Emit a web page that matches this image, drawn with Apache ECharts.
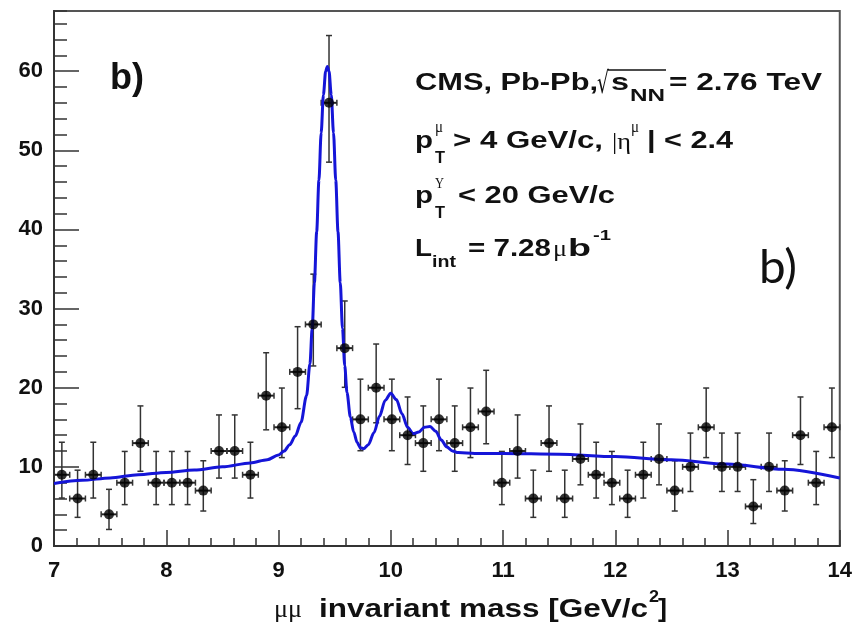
<!DOCTYPE html>
<html>
<head>
<meta charset="utf-8">
<script src="https://cdn.jsdelivr.net/npm/echarts@6/dist/echarts.min.js"></script>
<style>html,body{margin:0;padding:0;background:#fff;}#c{width:855px;height:629px;}</style>
</head>
<body>
<div id="c"></div>
<script>
// ---- data ----
const massBins = [7.07,7.21,7.35,7.49,7.63,7.77,7.91,8.05,8.19,8.33,8.47,8.61,8.75,8.89,9.03,9.17,9.31,9.45,9.59,9.73,
  9.87,10.01,10.15,10.29,10.43,10.57,10.71,10.85,10.99,11.13,11.27,11.41,11.55,11.69,11.83,11.97,12.11,12.25,12.39,12.53,
  12.67,12.81,12.95,13.09,13.23,13.37,13.51,13.65,13.79,13.93];
const counts = [9,6,9,4,8,13,8,8,8,7,12,12,9,19,15,22,28,56,25,16,
  20,16,14,13,16,13,15,17,8,12,6,13,6,11,9,8,6,9,11,7,
  10,15,10,10,5,10,7,14,8,15];
const errLow = [6.06,3.62,6.06,2.09,5.23,9.44,5.23,5.23,5.23,4.42,8.58,8.58,6.06,14.68,11.17,17.35,22.75,48.5,20.05,12.04,
  15.57,12.04,10.30,9.44,12.04,9.44,11.17,12.92,5.23,8.58,3.62,9.44,3.62,7.73,6.06,5.23,3.62,6.06,7.73,4.42,
  6.89,11.17,6.89,6.89,2.84,6.89,4.42,10.30,5.23,11.17];
const errHigh = [13.11,9.58,13.11,7.16,11.95,17.70,11.95,11.95,11.95,10.77,16.56,16.56,13.11,24.42,19.96,27.71,34.35,64.5,30.96,21.08,
  25.52,21.08,18.83,17.70,21.08,17.70,19.96,22.20,11.95,16.56,9.58,17.70,9.58,15.42,13.11,11.95,9.58,13.11,15.42,10.77,
  14.27,19.96,14.27,14.27,8.38,14.27,10.77,18.83,11.95,19.96];
const binHalf = 0.07;
const fitMass = [7.0,7.25,7.5,7.75,8.0,8.25,8.5,8.75,8.9,9.0,9.05,9.1,9.15,9.2,9.25,9.28,9.3,9.32,9.34,9.36,9.38,9.4,9.42,9.435,
  9.45,9.47,9.49,9.51,9.53,9.55,9.57,9.59,9.61,9.64,9.67,9.7,9.73,9.76,9.8,9.85,9.9,9.95,10.0,10.05,10.1,10.15,10.2,10.25,
  10.3,10.35,10.4,10.45,10.5,10.55,10.6,10.75,11.0,11.5,12.0,12.5,13.0,13.5,14.0];
const fitCounts = [7.9,8.3,8.6,9.0,9.3,9.6,10.0,10.5,10.9,11.5,12.0,12.8,13.9,15.6,19.0,23.0,27.5,33.3,39.7,46.2,52.2,57.0,60.0,60.6,
  60.0,57.0,52.2,46.2,39.7,33.3,27.5,22.8,19.4,16.3,14.4,13.1,12.4,12.3,12.8,14.3,16.4,18.4,19.3,18.5,16.7,15.0,14.2,14.4,
  15.0,15.1,14.5,13.4,12.5,12.0,11.8,11.7,11.7,11.6,11.3,10.9,10.35,9.7,8.6];
const xTicks = {min: 7, max: 14, interval: 1};
const yTicks = {min: 0, max: 67.6, interval: 10, minorInterval: 2};

// ---- helpers for text ----
const mctx = document.createElement('canvas').getContext('2d');
function measure(t, f){ mctx.font = f; return mctx.measureText(t).width; }
const BOLD = s => 'bold ' + s + 'px "Liberation Sans"';
const SERIF = s => s + 'px "Liberation Serif"';
function seg(text, x, baseline, font, size, w){
  const s = w ? w / measure(text, font) : 1;
  return {type:'text', x: x, y: baseline - 0.36*size, scaleX: s, z: 100,
    style:{text: text, font: font, fill:'#111', align:'left', verticalAlign:'middle'}};
}
const M = 24;
const texts = [
  seg('b)', 110, 92, BOLD(36), 36, 0),
  seg('CMS, Pb-Pb,', 415, 92, BOLD(M), M, 183),
  seg('\u221A', 597, 96, '30px "DejaVu Sans"', 30, 12),
  seg('s', 611, 92, BOLD(M), M, 18),
  seg('NN', 630, 102, BOLD(16), 16, 35),
  seg('= 2.76 TeV', 669, 92, BOLD(M), M, 153),
  seg('p', 415, 150, BOLD(M), M, 18),
  seg('T', 435, 164, BOLD(16), 16, 10),
  seg('\u03BC', 435, 134, SERIF(16), 16, 8),
  seg('> 4 GeV/c,', 453, 150, BOLD(M), M, 150),
  seg('|\u03B7', 612, 151, SERIF(M), M, 19),
  seg('\u03BC', 631, 134, SERIF(16), 16, 8),
  seg('| < 2.4', 647, 150, BOLD(M), M, 86),
  seg('p', 415, 205, BOLD(M), M, 18),
  seg('T', 435, 219, BOLD(16), 16, 10),
  seg('\u03A5', 435, 189, SERIF(15), 15, 9),
  seg('< 20 GeV/c', 458, 205, BOLD(M), M, 157),
  seg('L', 415, 258, BOLD(M), M, 17),
  seg('int', 432, 268, BOLD(16), 16, 24),
  seg('= 7.28', 468, 258, BOLD(M), M, 83),
  seg('\u03BC', 553, 258, SERIF(M), M, 14),
  seg('b', 568, 258, BOLD(M), M, 23),
  seg('-1', 593, 241, BOLD(15), 15, 18),
  seg('b)', 759, 285, '46px Lato', 46, 38),
  seg('\u03BC\u03BC', 274, 619, SERIF(25), 25, 28),
  seg('invariant mass [GeV/c', 319, 619, BOLD(25), 25, 329),
  seg('2', 649, 603, BOLD(16), 16, 10),
  seg(']', 658, 619, BOLD(25), 25, 9),
  {type:'line', z:100, shape:{x1:608, y1:70, x2:666, y2:70}, style:{stroke:'#111', lineWidth:1.5}}
];

const chart = echarts.init(document.getElementById('c'), null, {renderer:'canvas'});
const pts = massBins.map((m,i)=>[m, counts[i]]);
const errData = massBins.map((m,i)=>[m, errLow[i], errHigh[i], counts[i]]);
const fitData = fitMass.map((m,i)=>[m, fitCounts[i]]);

const labelFont = {fontFamily:'Liberation Sans', fontWeight:'bold', fontSize:22, color:'#111'};
chart.setOption({
  animation:false,
  grid:{left:54, right:13, top:11, bottom:83, show:true, borderColor:'#555', borderWidth:2, backgroundColor:'#fff'},
  xAxis:[{type:'value', min:xTicks.min, max:xTicks.max, interval:xTicks.interval,
    axisLine:{onZero:false, lineStyle:{color:'#333', width:2}},
    axisTick:{inside:true, length:16, lineStyle:{color:'#333', width:1.5}},
    minorTick:{show:true, splitNumber:5, length:8, lineStyle:{color:'#333', width:1.5}},
    splitLine:{show:false},
    axisLabel:Object.assign({margin:14}, labelFont)}],
  yAxis:[{type:'value', min:yTicks.min, max:yTicks.max, interval:yTicks.interval,
    axisLine:{show:true, onZero:false, lineStyle:{color:'#333', width:2}},
    axisTick:{inside:true, length:25, lineStyle:{color:'#333', width:1.5}},
    splitLine:{show:false},
    axisLabel:Object.assign({margin:11, showMaxLabel:false, formatter:v=> (v%10===0? String(v):'')}, labelFont)},
    {type:'value', min:yTicks.min, max:yTicks.max, interval:yTicks.minorInterval, position:'left',
    axisLine:{show:false, onZero:false},
    axisTick:{inside:true, length:13, lineStyle:{color:'#333', width:1.5}},
    splitLine:{show:false}, axisLabel:{show:false}}],
  graphic: texts,
  series:[
    {type:'custom', z:2, data:errData, encode:{x:0, y:[1,2]},
     renderItem:(params, api)=>{
       const x=api.value(0), lo=api.value(1), hi=api.value(2), y=api.value(3);
       const a=api.coord([x,lo]), b=api.coord([x,hi]);
       const l=api.coord([x-binHalf,y]), r=api.coord([x+binHalf,y]);
       const st={stroke:'#333', lineWidth:1.5};
       const c=3;
       return {type:'group', children:[
         {type:'line', shape:{x1:a[0],y1:a[1],x2:b[0],y2:b[1]}, style:st},
         {type:'line', shape:{x1:a[0]-c,y1:a[1],x2:a[0]+c,y2:a[1]}, style:st},
         {type:'line', shape:{x1:b[0]-c,y1:b[1],x2:b[0]+c,y2:b[1]}, style:st},
         {type:'line', shape:{x1:l[0],y1:l[1],x2:r[0],y2:r[1]}, style:{stroke:'#222', lineWidth:2}},
         {type:'line', shape:{x1:l[0],y1:l[1]-c,x2:l[0],y2:l[1]+c}, style:st},
         {type:'line', shape:{x1:r[0],y1:r[1]-c,x2:r[0],y2:r[1]+c}, style:st}
       ]};
     }},
    {type:'line', z:3, data:fitData, showSymbol:false, symbol:'none', smooth:0.3, smoothMonotone:'x',
     lineStyle:{color:'#1515d8', width:3}},
    {type:'scatter', z:4, data:pts, symbol:'circle', symbolSize:10, itemStyle:{color:'#000'}}
  ]
});
</script>
</body>
</html>
